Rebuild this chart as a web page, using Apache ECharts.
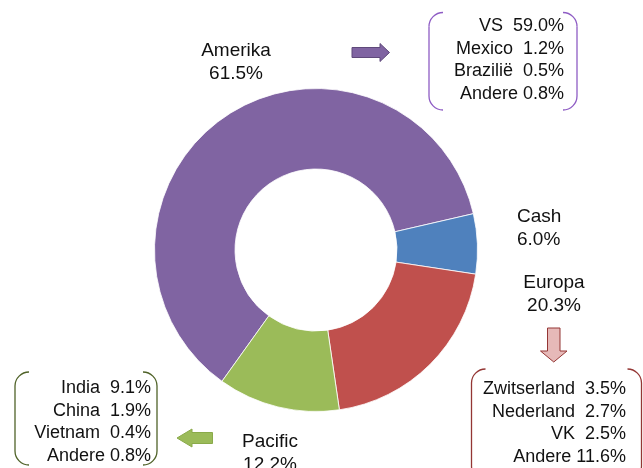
<!DOCTYPE html>
<html>
<head>
<meta charset="utf-8">
<script src="https://cdn.jsdelivr.net/npm/echarts@6/dist/echarts.min.js"></script>
<style>
  html, body { margin: 0; padding: 0; background: #fff; }
  #main { width: 643px; height: 468px; }
</style>
</head>
<body>
<div id="main"></div>
<script>
// regio's en aandelen (%)
var regions = ['Amerika', 'Cash', 'Europa', 'Pacific'];
var shares = [61.5, 6.0, 20.3, 12.2];
var colors = ['#8064A2', '#4F81BD', '#C0504D', '#9BBB59'];

// uitsplitsing per regio
var amerikaNames = ['VS', 'Mexico', 'Brazilië', 'Andere'];
var amerikaValues = [59.0, 1.2, 0.5, 0.8];
var europaNames = ['Zwitserland', 'Nederland', 'VK', 'Andere'];
var europaValues = [3.5, 2.7, 2.5, 11.6];
var pacificNames = ['India', 'China', 'Vietnam', 'Andere'];
var pacificValues = [9.1, 1.9, 0.4, 0.8];

var FONT = '"Liberation Sans", Arial, sans-serif';

// plaats van de labels (middelpunt van het tekstblok)
var labelPos = [
  { x: 236, y: 62, align: 'center' },
  { x: 517, y: 228, align: 'left' },
  { x: 554, y: 294, align: 'center' },
  { x: 270, y: 453, align: 'center' }
];

function boxText(names, values) {
  return names.map(function (n, i) {
    var sep = n === 'Andere' ? ' ' : '  ';
    return n + sep + values[i].toFixed(1) + '%';
  }).join('\n');
}

// haakje: x = verticale lijn, dir = +1 (links) of -1 (rechts)
function bracket(x, top, bottom, dir, r, color) {
  var st = { fill: null, stroke: color, lineWidth: 1.3 };
  var PI = Math.PI;
  var cx = x + dir * r;
  var a1 = dir > 0 ? [PI, 1.5 * PI] : [1.5 * PI, 2 * PI];
  var a2 = dir > 0 ? [0.5 * PI, PI] : [0, 0.5 * PI];
  return [
    { type: 'arc', shape: { cx: cx, cy: top + r, r: r, startAngle: a1[0], endAngle: a1[1], clockwise: true }, style: st },
    { type: 'line', shape: { x1: x, y1: top + r, x2: x, y2: bottom - r }, style: st },
    { type: 'arc', shape: { cx: cx, cy: bottom - r, r: r, startAngle: a2[0], endAngle: a2[1], clockwise: true }, style: st }
  ];
}

function box(left, right, top, bottom, color) {
  return bracket(left, top, bottom, 1, 14, color).concat(bracket(right, top, bottom, -1, 14, color));
}

function boxLabel(x, y, txt) {
  return { type: 'text', x: x, y: y,
    style: { text: txt, align: 'right', verticalAlign: 'top', font: '18px ' + FONT,
      lineHeight: 22.5, fill: '#111' } };
}

var graphics = []
  .concat(box(429, 577, 12.5, 110, '#8E5CC4'))
  .concat(box(471.5, 641.5, 369, 480, '#943634'))
  .concat(box(15, 157, 372, 465, '#4F6228'))
  .concat([
    boxLabel(564, 15, boxText(amerikaNames, amerikaValues)),
    boxLabel(626, 378, boxText(europaNames, europaValues)),
    boxLabel(151, 377, boxText(pacificNames, pacificValues)),
    // pijl rechts (Amerika)
    { type: 'polygon', shape: { points: [[352, 47.5], [380, 47.5], [380, 43.5], [389.5, 52.5], [380, 61.5], [380, 57.5], [352, 57.5]] },
      style: { fill: '#8064A2', stroke: '#5F497A', lineWidth: 1 } },
    // pijl omlaag (Europa)
    { type: 'polygon', shape: { points: [[547.5, 328], [560, 328], [560, 351], [567, 351], [553.75, 362], [540.5, 351], [547.5, 351]] },
      style: { fill: '#E6B9B8', stroke: '#943634', lineWidth: 1 } },
    // pijl links (Pacific)
    { type: 'polygon', shape: { points: [[212.5, 432.5], [192, 432.5], [192, 429], [177, 438], [192, 447], [192, 443.5], [212.5, 443.5]] },
      style: { fill: '#9BBB59', stroke: '#8AAA4A', lineWidth: 1 } }
  ]);

var chart = echarts.init(document.getElementById('main'));
chart.setOption({
  animation: false,
  color: colors,
  graphic: graphics,
  series: [{
    type: 'pie',
    center: [316, 250],
    radius: [81, 161.5],
    startAngle: 13 + shares[0] * 3.6,
    clockwise: true,
    avoidLabelOverlap: false,
    itemStyle: { borderColor: '#fff', borderWidth: 0.8 },
    label: {
      show: true,
      position: 'outside',
      fontFamily: FONT,
      fontSize: 19,
      lineHeight: 23,
      color: '#111',
      formatter: function (p) { return p.name + '\n' + p.value.toFixed(1) + '%'; }
    },
    labelLine: { show: false },
    labelLayout: function (p) {
      var lp = labelPos[p.dataIndex];
      return { x: lp.x, y: lp.y, align: lp.align, verticalAlign: 'middle' };
    },
    data: regions.map(function (r, i) { return { name: r, value: shares[i] }; })
  }]
});
</script>
</body>
</html>
